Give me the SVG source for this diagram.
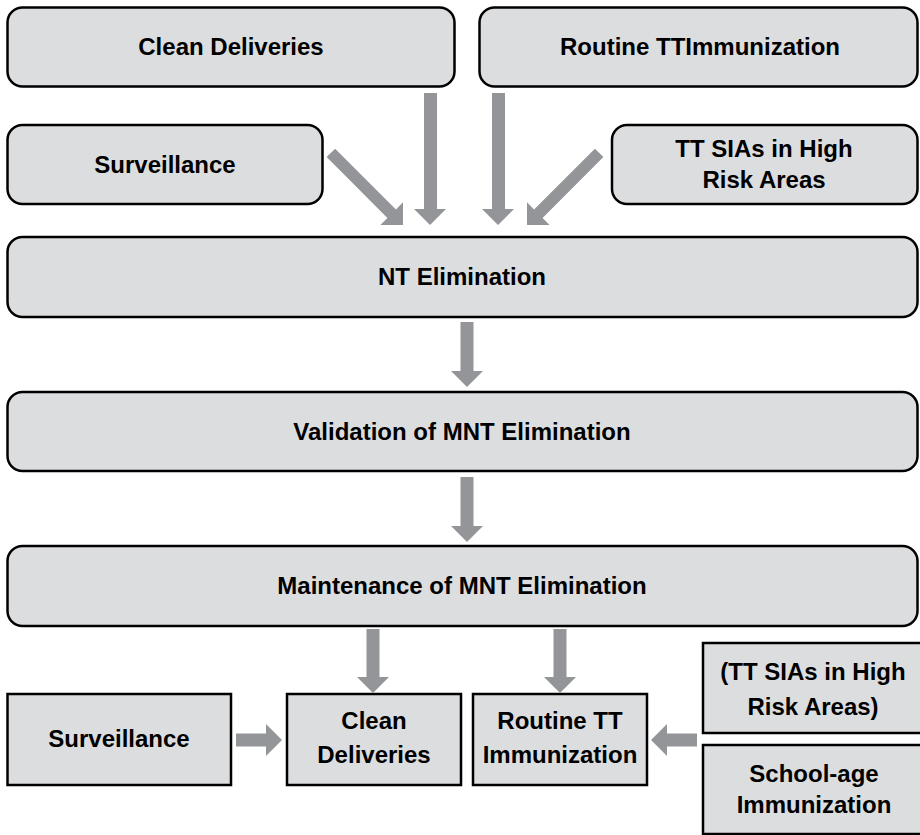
<svg xmlns="http://www.w3.org/2000/svg" width="920" height="835" viewBox="0 0 920 835">
<style>
.rbox{fill:#dcdddf;stroke:#000;stroke-width:2.5}
.sbox{fill:#dcdddf;stroke:#000;stroke-width:2.5}
.arr{fill:#939598;stroke:none}
text{font-family:"Liberation Sans",Arial,sans-serif;font-weight:bold;font-size:24px;fill:#000;text-anchor:middle}
</style>
<rect width="920" height="835" fill="#fff"/>
<g id="clean-deliveries-top"><rect class="rbox" x="7.5" y="7.5" width="447" height="79" rx="15"/><text x="231" y="55">Clean Deliveries</text></g>
<g id="routine-tt-top"><rect class="rbox" x="479.5" y="7.5" width="438" height="79" rx="15"/><text x="700" y="55">Routine TTImmunization</text></g>
<g id="surveillance-top"><rect class="rbox" x="7.5" y="125" width="315" height="79" rx="15"/><text x="165" y="173">Surveillance</text></g>
<g id="tt-sias-top"><rect class="rbox" x="612" y="125" width="305.5" height="79" rx="15"/><text x="764" y="157">TT SIAs in High</text><text x="764" y="188">Risk Areas</text></g>
<g id="nt-elimination"><rect class="rbox" x="7.5" y="237" width="910" height="80" rx="15"/><text x="462" y="285">NT Elimination</text></g>
<g id="validation"><rect class="rbox" x="7.5" y="392" width="910" height="79" rx="15"/><text x="462" y="440">Validation of MNT Elimination</text></g>
<g id="maintenance"><rect class="rbox" x="7.5" y="546" width="910" height="80" rx="15"/><text x="462" y="594">Maintenance of MNT Elimination</text></g>
<g id="surveillance-bottom"><rect class="sbox" x="7.5" y="694" width="223.5" height="91"/><text x="119" y="747">Surveillance</text></g>
<g id="clean-deliveries-bottom"><rect class="sbox" x="287" y="694" width="174" height="91"/><text x="374" y="729">Clean</text><text x="374" y="763">Deliveries</text></g>
<g id="routine-tt-bottom"><rect class="sbox" x="473" y="694" width="174" height="91"/><text x="560" y="729">Routine TT</text><text x="560" y="763">Immunization</text></g>
<g id="tt-sias-bottom"><rect class="sbox" x="703" y="643" width="222" height="90"/><text x="813" y="680">(TT SIAs in High</text><text x="813" y="715">Risk Areas)</text></g>
<g id="school-age"><rect class="sbox" x="703" y="745" width="222" height="89"/><text x="814" y="782">School-age</text><text x="814" y="813">Immunization</text></g>
<g id="connectors">
<path class="arr" transform="translate(403,225) rotate(-45)" d="M0,0 L-16,-16 L-6,-16 L-6,-102 L6,-102 L6,-16 L16,-16 Z"/>
<path class="arr" transform="translate(527,225) rotate(45)" d="M0,0 L-16,-16 L-6,-16 L-6,-102 L6,-102 L6,-16 L16,-16 Z"/>
<path class="arr" d="M424,93 L437,93 L437,209 L446,209 L430,225 L414,209 L424,209 Z"/>
<path class="arr" d="M492,93 L505,93 L505,209 L514,209 L498,225 L482,209 L492,209 Z"/>
<path class="arr" d="M460.5,322 L473.5,322 L473.5,371 L483,371 L467,387 L451,371 L460.5,371 Z"/>
<path class="arr" d="M460.5,477 L473.5,477 L473.5,526 L483,526 L467,542 L451,526 L460.5,526 Z"/>
<path class="arr" d="M366.5,629 L379.5,629 L379.5,677 L389,677 L373,693 L357,677 L366.5,677 Z"/>
<path class="arr" d="M553.5,629 L566.5,629 L566.5,677 L576,677 L560,693 L544,677 L553.5,677 Z"/>
<path class="arr" d="M236,733.5 L266,733.5 L266,724 L282,740 L266,756 L266,746.5 L236,746.5 Z"/>
<path class="arr" d="M697,733.5 L667,733.5 L667,724 L651,740 L667,756 L667,746.5 L697,746.5 Z"/>
</g>
</svg>
